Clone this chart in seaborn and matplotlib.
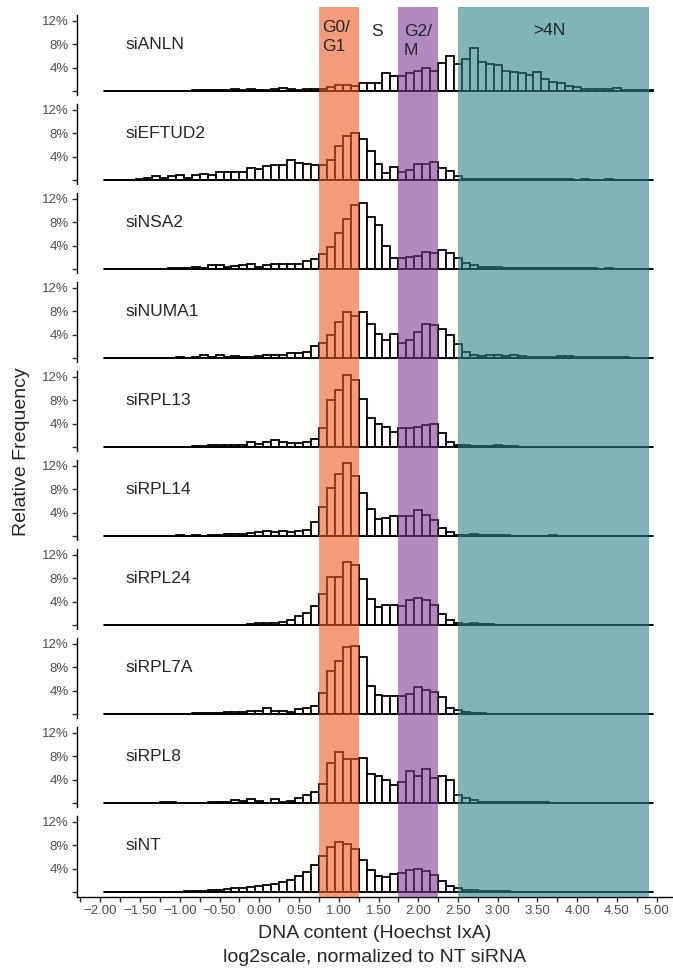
import numpy as np
import pandas as pd
import matplotlib
matplotlib.use("Agg")
import matplotlib.pyplot as plt
from matplotlib.ticker import MultipleLocator, FuncFormatter
import seaborn as sns

# bins of width 0.1, centred on -1.9 ... 4.9
bin_centers = np.round(np.arange(-1.9, 4.95, 0.1), 2)
n_bins = len(bin_centers)
bin_range = (-1.95, 4.95)

samples = ["siANLN", "siEFTUD2", "siNSA2", "siNUMA1", "siRPL13",
           "siRPL14", "siRPL24", "siRPL7A", "siRPL8", "siNT"]

# relative frequency (%) per bin
siANLN = [0, 0, 0, 0, 0, 0, 0, 0, 0, 0, 0,
          0.1, 0.1, 0.2, 0.2, 0.1, 0.3, 0.2, 0.3, 0.1, 0.2, 0.3, 0.5, 0.3, 0.2, 0.4, 0.3,
          0.4, 0.6, 1.0, 1.0, 0.8, 1.4, 1.4, 1.4, 3.0, 2.6, 2.5, 3.1, 3.4, 3.9, 3.5, 4.8, 6.0,
          4.7, 5.5, 7.4, 5.0, 4.7, 4.4, 3.5, 3.3, 3.0, 2.7, 3.3, 2.1, 1.5, 1.3, 0.8, 0.6, 0.4,
          0.3, 0.3, 0.4, 0.5, 0.2, 0.2, 0.2, 0.1]
siEFTUD2 = [0, 0, 0.02,
            0.05, 0.1, 0.4, 0.6, 0.4, 0.75, 0.85, 0.4, 0.85, 1.1, 0.85, 1.4, 1.4, 1.4, 1.4,
            2.1, 1.9, 2.4, 2.5, 2.5, 3.4, 2.9, 2.8, 2.5,
            2.5, 3.4, 5.9, 7.6, 8.1, 7.0, 4.9, 2.7, 1.2, 2.3, 1.4, 1.7, 2.8, 2.7, 3.0, 2.0, 1.6,
            0.6, 0.1, 0.1, 0.15, 0.2, 0.15, 0.1, 0.1, 0.1, 0.15, 0.1, 0.1, 0.1, 0.1, 0.1, 0.05,
            0.1, 0.05, 0.05, 0.1, 0.05, 0.05, 0.05, 0.05, 0.05]
siNSA2 = [0, 0, 0, 0, 0, 0, 0, 0.05,
          0.1, 0.2, 0.2, 0.3, 0.2, 0.6, 0.6, 0.3, 0.5, 0.6, 0.9, 0.4, 0.6, 0.8, 0.8, 0.9, 0.9,
          1.3, 1.7,
          2.5, 3.8, 6.2, 8.6, 10.9, 11.3, 8.9, 7.5, 4.0, 1.8, 1.9, 2.1, 2.2, 2.9, 2.7, 3.3, 2.7,
          1.8, 1.0, 0.6, 0.4, 0.3, 0.3, 0.2, 0.2, 0.2, 0.2, 0.15, 0.15, 0.1, 0.2, 0.1, 0.1,
          0.1, 0.1, 0.05, 0.1, 0.05, 0.05, 0.05, 0.05, 0.05]
siNUMA1 = [0, 0, 0, 0, 0, 0, 0, 0, 0,
           0.2, 0.05, 0.1, 0.5, 0.2, 0.5, 0.2, 0.4, 0.1, 0.2, 0.3, 0.5, 0.5, 0.5, 0.8, 0.8,
           1.1, 2.0,
           2.5, 3.9, 6.1, 7.8, 7.2, 7.9, 5.9, 4.1, 3.0, 4.1, 2.6, 3.0, 4.5, 5.9, 5.7, 4.9, 3.9,
           2.4, 1.0, 0.5, 0.4, 0.5, 0.5, 0.3, 0.5, 0.3, 0.2, 0.2, 0.2, 0.2, 0.3, 0.3, 0.1,
           0.1, 0.1, 0.1, 0.1, 0.1, 0.1, 0.05, 0.05, 0.05]
siRPL13 = [0, 0, 0, 0, 0, 0, 0, 0, 0, 0, 0,
           0.1, 0.2, 0.3, 0.3, 0.4, 0.3, 0.4, 0.8, 0.5, 0.8, 1.2, 0.9, 0.7, 0.7, 0.9, 1.3,
           3.3, 8.0, 9.7, 12.3, 11.4, 8.3, 5.0, 3.9, 3.4, 2.5, 3.2, 3.2, 3.5, 3.8, 3.9, 2.4, 0.9,
           0.4, 0.3, 0.2, 0.2, 0.1, 0.3, 0.1, 0.1, 0.05, 0.05, 0.05, 0.05, 0.05, 0.05, 0.05,
           0.05, 0.05, 0.05, 0.05, 0.05, 0.05, 0.05, 0.05, 0.05, 0.05]
siRPL14 = [0, 0, 0, 0, 0, 0, 0, 0,
           0.05, 0.1, 0.05, 0.1, 0.05, 0.1, 0.2, 0.4, 0.4, 0.3, 0.5, 0.6, 0.8, 0.6, 0.9, 0.6,
           0.8, 1.0, 2.4,
           5.0, 8.3, 10.7, 12.5, 10.3, 7.4, 4.7, 2.9, 3.0, 3.4, 3.4, 3.4, 4.4, 3.6, 2.7, 1.3, 0.75,
           0.2, 0.2, 0.3, 0.15, 0.1, 0.1, 0.1, 0.05, 0.05, 0.05, 0.05, 0.05, 0.1, 0.05, 0.05,
           0.05, 0.05, 0.05, 0.05, 0.05, 0.05, 0.05, 0.05, 0.05, 0.05]
siRPL24 = [0, 0, 0, 0, 0, 0, 0, 0, 0, 0, 0, 0, 0.02,
           0.05, 0.05, 0.05, 0.05, 0.05, 0.1, 0.3, 0.3, 0.3, 0.5, 0.9, 1.6, 2.0, 3.2,
           5.3, 8.2, 8.2, 10.8, 10.3, 7.8, 4.5, 3.0, 3.4, 3.4, 3.2, 4.2, 4.6, 4.2, 3.4, 1.8, 0.9,
           0.3, 0.2, 0.3, 0.1, 0.1, 0.05, 0.05, 0.05, 0.05, 0.05, 0.05, 0.05, 0.05, 0.05, 0.05,
           0.05, 0.05, 0.05, 0.05, 0.05, 0.05, 0.05, 0.05, 0.05, 0.05]
siRPL7A = [0, 0, 0, 0, 0, 0, 0,
           0.05, 0.05, 0.05, 0.05, 0.1, 0.1, 0.1, 0.2, 0.3, 0.4, 0.4, 0.5, 0.5, 1.0, 0.5, 0.5,
           0.4, 0.9, 1.0, 1.3,
           3.6, 7.4, 9.0, 11.4, 11.7, 9.8, 4.8, 3.3, 3.1, 3.1, 3.0, 3.5, 4.7, 4.1, 3.8, 2.9, 1.1,
           0.6, 0.3, 0.1, 0.1, 0.05, 0.05, 0.05, 0.05, 0.05, 0.05, 0.05, 0.05, 0.05, 0.05, 0.05,
           0.05, 0.05, 0.05, 0.05, 0.05, 0.05, 0.05, 0.05, 0.05, 0.05]
siRPL8 = [0, 0, 0, 0, 0, 0,
          0.05, 0.1, 0.2, 0.05, 0.05, 0.05, 0.05, 0.1, 0.2, 0.2, 0.5, 0.3, 0.7, 0.4, 0.05, 0.7,
          0.2, 0.3, 0.8, 1.3, 1.8,
          3.3, 6.8, 8.7, 7.5, 7.5, 7.7, 5.0, 4.7, 3.9, 3.1, 3.6, 5.4, 4.6, 5.8, 4.2, 4.6, 4.0,
          1.4, 0.9, 0.5, 0.2, 0.1, 0.1, 0.1, 0.2, 0.2, 0.1, 0.1, 0.1, 0.05, 0.05, 0.05,
          0.05, 0.05, 0.05, 0.05, 0.05, 0.05, 0.05, 0.05, 0.05, 0.05]
siNT = [0.02, 0.02, 0.02, 0.02, 0.03, 0.03, 0.04, 0.05, 0.06,
        0.08, 0.1, 0.15, 0.2, 0.3, 0.4, 0.5, 0.6, 0.7, 0.9, 1.0, 1.2, 1.4, 1.7, 2.0, 2.7,
        3.4, 4.7,
        6.1, 7.7, 8.6, 8.3, 7.4, 5.5, 3.8, 2.8, 2.6, 3.0, 3.3, 3.7, 4.0, 3.6, 2.9, 1.9, 1.1,
        0.6, 0.4, 0.3, 0.2, 0.15, 0.1, 0.1, 0.08, 0.06, 0.05, 0.05, 0.04, 0.04, 0.03, 0.03,
        0.03, 0.02, 0.02, 0.02, 0.02, 0.02, 0.02, 0.02, 0.02, 0.02]

freqs = [siANLN, siEFTUD2, siNSA2, siNUMA1, siRPL13,
         siRPL14, siRPL24, siRPL7A, siRPL8, siNT]

# cell-cycle phase bands
phases = [(0.75, 1.25, "#EE5A21"), (1.75, 2.25, "#7B3E96"), (2.5, 4.9, "#2B8489")]

sns.set_style("white")
plt.rcParams["font.family"] = ["Liberation Sans", "DejaVu Sans"]

W, H = 673, 974
fig = plt.figure(figsize=(W / 100, H / 100), dpi=100)

left_px, width_px = 76.5, 604
top0, panel_h = 7, 89
gray = "#4D4D4D"

axes = []
for i, (name, vals) in enumerate(zip(samples, freqs)):
    top = top0 + i * panel_h
    ax = fig.add_axes([left_px / W, 1 - (top + panel_h) / H, width_px / W, panel_h / H])
    axes.append(ax)
    df = pd.DataFrame({"dna": bin_centers, "freq": vals})
    sns.histplot(data=df, x="dna", weights="freq", bins=n_bins, binrange=bin_range,
                 ax=ax, color="white", edgecolor="black", linewidth=1.3, alpha=1,
                 zorder=2)
    # baseline spanning the binned range (zero-height bins)
    ax.plot(bin_range, [0, 0], color="black", lw=1.3, zorder=2)
    for lo, hi, col in phases:
        ax.axvspan(lo, hi, color=col, alpha=0.6, lw=0, zorder=3)
    ax.set_xlim(-2.3, 5.3)
    ax.set_ylim(-0.86, 14.39)
    ax.set_ylabel("")
    ax.set_xlabel("")
    ax.text(-1.68, 8.0, name, fontsize=12.5, ha="left", va="center", zorder=4)

    for s in ["top", "right"]:
        ax.spines[s].set_visible(False)
    ax.spines["left"].set_bounds(-0.86, 13.0)
    ax.spines["left"].set_color("black")
    ax.spines["left"].set_linewidth(1.0)
    ax.set_yticks([0, 4, 8, 12])
    ax.set_yticklabels(["", "4%", "8%", "12%"])
    ax.tick_params(axis="y", length=3.5, width=1.0, color="#333333",
                   labelsize=9.5, labelcolor=gray, left=True, pad=2)

    if i < len(samples) - 1:
        ax.spines["bottom"].set_visible(False)
        ax.set_xticks([])
    else:
        ax.spines["bottom"].set_color("black")
        ax.spines["bottom"].set_linewidth(1.0)
        ax.xaxis.set_major_locator(MultipleLocator(0.5))
        ax.xaxis.set_minor_locator(MultipleLocator(0.25))
        ax.xaxis.set_major_formatter(
            FuncFormatter(lambda v, p: f"{v:.2f}".replace("-", "\u2212")))
        ax.tick_params(axis="x", which="both", length=3.5, width=1.0, color="#333333",
                       labelsize=9.5, labelcolor=gray, bottom=True, pad=2)

# phase labels in the top panel
top_ax = axes[0]
top_ax.text(0.79, 9.2, "G0/\nG1", fontsize=12.5, ha="left", va="center",
            linespacing=1.35, zorder=4)
top_ax.text(1.48, 10.2, "S", fontsize=12.5, ha="center", va="center", zorder=4)
top_ax.text(1.82, 8.5, "G2/\nM", fontsize=12.5, ha="left", va="center",
            linespacing=1.35, zorder=4)
top_ax.text(3.65, 10.3, ">4N", fontsize=12.5, ha="center", va="center", zorder=4)

fig.text(0.5565, 1 - 933 / H, "DNA content (Hoechst IxA)", fontsize=14,
         ha="center", va="center")
fig.text(0.5565, 1 - 958 / H, "log2scale, normalized to NT siRNA", fontsize=14,
         ha="center", va="center")
fig.text(22 / W, 1 - 452 / H, "Relative Frequency", fontsize=14, rotation=90,
         ha="center", va="center")

fig.savefig("out.png", dpi=100)
